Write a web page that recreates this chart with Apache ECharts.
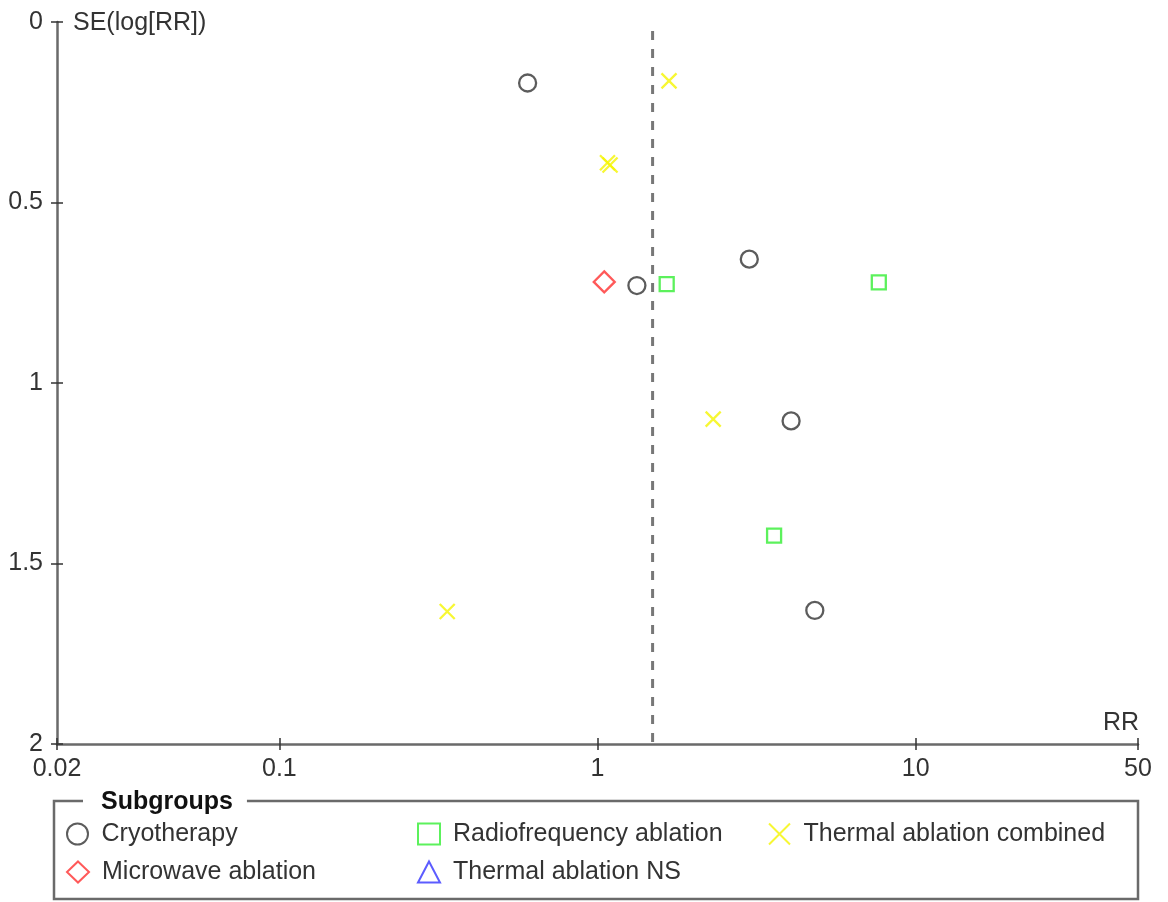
<!DOCTYPE html>
<html>
<head>
<meta charset="utf-8">
<script src="https://cdn.jsdelivr.net/npm/echarts@6/dist/echarts.min.js"></script>
<style>
html,body{margin:0;padding:0;background:#fff;}
#chart{width:1168px;height:902px;}
</style>
</head>
<body>
<div id="chart"></div>
<script>
// ---- data ----
const groupNames = ['Cryotherapy', 'Microwave ablation', 'Radiofrequency ablation', 'Thermal ablation NS', 'Thermal ablation combined'];
const cryoRR = [0.603, 1.33, 3.00, 4.06, 4.82];
const cryoSE = [0.169, 0.730, 0.657, 1.105, 1.630];
const microRR = [1.05];
const microSE = [0.720];
const rfRR = [1.65, 7.66, 3.59];
const rfSE = [0.726, 0.721, 1.423];
const nsRR = [];
const nsSE = [];
const thermRR = [1.678, 1.075, 1.095, 2.31, 0.337];
const thermSE = [0.163, 0.390, 0.396, 1.100, 1.633];
const pooledRR = 1.49;
const xMin = 0.02, xMax = 50;
const yMin = 0, yMax = 2, yStep = 0.5;

const FONT = 'Arial, "Liberation Sans", sans-serif';
const pts = (rr, se) => rr.map((v, i) => [v, se[i]]);
const xPath = 'path://M0,0L10,10M10,0L0,10';

const styles = {
  'Cryotherapy': {symbol: 'circle', size: 17, color: '#333333'},
  'Microwave ablation': {symbol: 'diamond', size: 21, color: '#ff3030'},
  'Radiofrequency ablation': {symbol: 'rect', size: 14, color: '#33ee33'},
  'Thermal ablation NS': {symbol: 'triangle', size: 16, color: '#3333ff'},
  'Thermal ablation combined': {symbol: xPath, size: 15, color: '#f5f500'}
};
const dataMap = {
  'Cryotherapy': pts(cryoRR, cryoSE),
  'Microwave ablation': pts(microRR, microSE),
  'Radiofrequency ablation': pts(rfRR, rfSE),
  'Thermal ablation NS': pts(nsRR, nsSE),
  'Thermal ablation combined': pts(thermRR, thermSE)
};
// legend slots: [column, row]
const legendSlots = {
  'Cryotherapy': [0, 0],
  'Microwave ablation': [0, 1],
  'Radiofrequency ablation': [1, 0],
  'Thermal ablation NS': [1, 1],
  'Thermal ablation combined': [2, 0]
};

const chart = echarts.init(document.getElementById('chart'), null, {renderer: 'canvas'});

const xBase = {
  type: 'log', logBase: 10, min: xMin, max: xMax, position: 'bottom', gridIndex: 0,
  splitLine: {show: false}
};
const yBase = {
  type: 'value', min: yMin, max: yMax, interval: yStep, inverse: true, position: 'left', gridIndex: 0,
  splitLine: {show: false}
};

const scatterSeries = groupNames.map(name => {
  const s = styles[name];
  return {
    name: name, type: 'scatter', xAxisIndex: 0, yAxisIndex: 0,
    symbol: s.symbol, symbolSize: s.size,
    itemStyle: {color: 'rgba(0,0,0,0)', borderColor: s.color, borderWidth: 2.3},
    emphasis: {disabled: true},
    data: dataMap[name], z: 5
  };
});

const colX = [77, 428, 779];
const rowY = [834, 872];
const legends = groupNames.map(name => {
  const slot = legendSlots[name];
  return {
    data: [{
      name: name,
      icon: styles[name].symbol,
      itemStyle: {color: 'rgba(0,0,0,0)', borderColor: styles[name].color, borderWidth: 2}
    }],
    left: colX[slot[0]] - 11, top: rowY[slot[1]] - 14,
    padding: 0, orient: 'horizontal',
    itemWidth: 22, itemHeight: 21, itemGap: 0,
    selectedMode: false,
    textStyle: {color: '#333', fontSize: 25, fontFamily: FONT, lineHeight: 28, padding: [0, 0, 0, 8]}
  };
});

const option = {
  backgroundColor: '#fff',
  animation: false,
  textStyle: {fontFamily: FONT},
  grid: {left: 57, right: 30, top: 22, bottom: 158, containLabel: false, outerBoundsMode: 'none'},
  xAxis: [
    Object.assign({}, xBase, {
      axisLine: {show: true, onZero: false, lineStyle: {color: '#6a6a6a', width: 2.5}},
      axisTick: {show: true, inside: false, length: 6, lineStyle: {color: '#333', width: 1.5}},
      axisLabel: {show: true, color: '#333', fontSize: 25, fontFamily: FONT, margin: 13,
        showMinLabel: true, showMaxLabel: true,
        formatter: v => String(+v.toPrecision(6))}
    }),
    Object.assign({}, xBase, {
      axisLine: {show: false, onZero: false},
      axisTick: {show: true, inside: true, length: 6, lineStyle: {color: '#333', width: 1.5}},
      axisLabel: {show: false}
    })
  ],
  yAxis: [
    Object.assign({}, yBase, {
      axisLine: {show: true, onZero: false, lineStyle: {color: '#6a6a6a', width: 2.5}},
      axisTick: {show: true, inside: false, length: 6, lineStyle: {color: '#333', width: 1.5}},
      axisLabel: {show: true, color: '#333', fontSize: 25, fontFamily: FONT, margin: 14,
        formatter: v => String(+v.toFixed(2))}
    }),
    Object.assign({}, yBase, {
      axisLine: {show: false, onZero: false},
      axisTick: {show: true, inside: true, length: 6, lineStyle: {color: '#333', width: 1.5}},
      axisLabel: {show: false}
    })
  ],
  legend: legends,
  graphic: [
    {type: 'rect', shape: {x: 54, y: 801, width: 1084, height: 98}, style: {fill: 'none', stroke: '#6a6a6a', lineWidth: 2.5}, z: 1},
    {type: 'text', x: 83, y: 802, style: {text: 'Subgroups', font: 'bold 25px ' + FONT, fill: '#111', textVerticalAlign: 'middle', backgroundColor: '#fff', padding: [2, 14, 2, 18]}, z: 2},
    {type: 'text', x: 73, y: 23, style: {text: 'SE(log[RR])', font: '25px ' + FONT, fill: '#333', textVerticalAlign: 'middle'}, z: 2},
    {type: 'text', x: 1139, y: 723, style: {text: 'RR', font: '25px ' + FONT, fill: '#333', textAlign: 'right', textVerticalAlign: 'middle'}, z: 2}
  ],
  series: [
    {
      name: 'pooled', type: 'line', xAxisIndex: 0, yAxisIndex: 0,
      data: [[pooledRR, yMin], [pooledRR, yMax]],
      symbol: 'none', silent: true,
      lineStyle: {color: '#777', width: 3, type: [9, 9], dashOffset: 9},
      z: 2
    }
  ].concat(scatterSeries)
};
chart.setOption(option);
</script>
</body>
</html>
